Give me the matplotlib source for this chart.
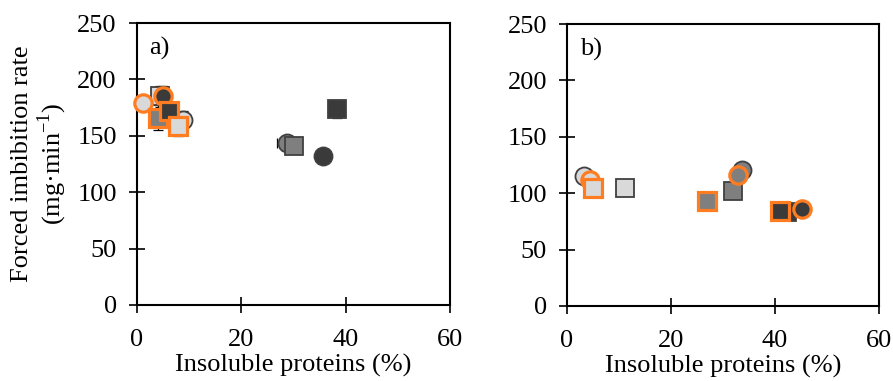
import numpy as np
import matplotlib.pyplot as plt

plt.rcParams['font.family'] = ['Liberation Serif', 'DejaVu Serif']

LIGHT = '#D9D9D9'
GRAY = '#7F7F7F'
DARK = '#3A3A3A'
EDGE_DK = '#404040'
EDGE_OR = '#FF7C20'
FS = 19

# series: fill, marker, edge colour
series_fill = [LIGHT, LIGHT, LIGHT, LIGHT, GRAY, GRAY, GRAY, GRAY, DARK, DARK, DARK, DARK]
series_marker = ['o', 'o', 's', 's', 'o', 'o', 's', 's', 'o', 'o', 's', 's']
series_edge = ['dk', 'or'] * 6

# panel a) insoluble proteins (%) and forced imbibition rate
xa = [8.9, 1.1, 4.4, 7.9, 28.7, np.nan, 30.1, 4.1, 35.7, 5.0, 38.3, 6.1]
ya = [164, 179, 185, 159, 144, np.nan, 141, 166, 132.5, 185.5, 174, 171.6]
ya_err = [8, 0, 9, 9, 0, 0, 0, 11, 0, 8.5, 8, 0]
xa_err = [0, 0, 0, 0, 1.8, 0, 0, 0, 0, 0, 0, 0]

# panel b)
xb = [3.3, 4.4, 11.2, 4.9, 33.6, 32.9, 32.0, 27.0, np.nan, 45.2, 42.2, 41.0]
yb = [115, 111.7, 104.3, 104.3, 120.3, 116, 102, 93.3, np.nan, 85.7, 83.5, 84.2]

# dark-edged markers first, then orange-edged circles, then orange-edged squares
draw_order = [0, 2, 4, 6, 8, 10, 1, 5, 9, 7, 11, 3]

fig = plt.figure(figsize=(8.93, 3.81), dpi=100)
ax_a = fig.add_axes([0.1534, 0.1995, 0.3505, 0.740])
ax_b = fig.add_axes([0.635, 0.1969, 0.3494, 0.740])


def draw_panel(ax, xs, ys, xerr=None, yerr=None):
    for z, i in enumerate(draw_order):
        if np.isnan(xs[i]):
            continue
        if (xerr is not None and xerr[i]) or (yerr is not None and yerr[i]):
            ax.errorbar(xs[i], ys[i],
                        xerr=xerr[i] if xerr is not None and xerr[i] else None,
                        yerr=yerr[i] if yerr is not None and yerr[i] else None,
                        fmt='none', ecolor='black', elinewidth=0.9,
                        capsize=3.5, capthick=0.9, zorder=2)
        orange = series_edge[i] == 'or'
        ax.plot(xs[i], ys[i], series_marker[i], ms=12.5 if orange else 13,
                mfc=series_fill[i],
                mec=EDGE_OR if orange else EDGE_DK,
                mew=2.3 if orange else 1.3, zorder=3 + z, clip_on=False)

    ax.set_xlim(0, 60)
    ax.set_ylim(0, 250)
    ax.set_xticks([0, 20, 40, 60])
    ax.set_yticks(range(0, 251, 50))
    ax.tick_params(direction='inout', length=11, width=1.2, labelsize=FS)
    ax.tick_params(axis='x', pad=12)
    ax.tick_params(axis='y', pad=9)
    for sp in ax.spines.values():
        sp.set_linewidth(1.5)
    ax.set_xlabel('Insoluble proteins (%)', fontsize=FS, labelpad=2)


draw_panel(ax_a, xa, ya, xa_err, ya_err)
draw_panel(ax_b, xb, yb)

ax_a.set_ylabel('Forced imbibition rate\n(mg·min$^{\\mathregular{-1}}$)',
                fontsize=FS, linespacing=1.1, labelpad=6)
ax_a.text(0.04, 0.95, 'a)', transform=ax_a.transAxes, fontsize=FS,
          va='top', ha='left')
ax_b.text(0.04, 0.95, 'b)', transform=ax_b.transAxes, fontsize=FS,
          va='top', ha='left')

fig.savefig('out.png', dpi=100)
